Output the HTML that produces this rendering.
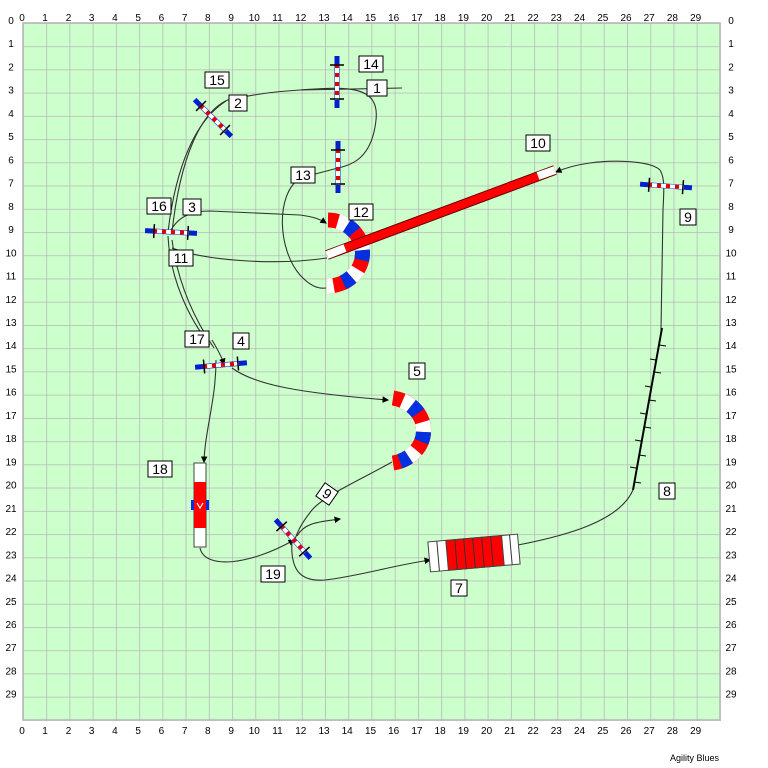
<!DOCTYPE html>
<html><head><meta charset="utf-8"><style>
html,body{margin:0;padding:0;background:#fff;}
svg{display:block;font-family:"Liberation Sans",sans-serif;}
.n{font-size:10px;fill:#000;text-anchor:middle;}
.lb rect{fill:#fff;stroke:#000;stroke-width:1;}
.lb text{font-size:14px;text-anchor:middle;}
.p{fill:none;stroke:#333;stroke-width:1.1;}
</style></head><body>
<svg width="768" height="768" viewBox="0 0 768 768">
<defs>
<pattern id="g" x="23" y="23" width="23.233" height="23.233" patternUnits="userSpaceOnUse">
<path d="M0 0 H23.233 M0 0 V23.233" stroke="#b8b8b8" stroke-width="1.6" fill="none"/>
</pattern>
<g id="jmp">
<line x1="-26" y1="0" x2="26" y2="0" stroke="#0020d0" stroke-width="5"/>
<line x1="-18" y1="0" x2="18" y2="0" stroke="#fff" stroke-width="4"/>
<line x1="-18" y1="0" x2="18" y2="0" stroke="#e00000" stroke-width="4" stroke-dasharray="4 5"/>
<line x1="-17" y1="-7" x2="-17" y2="7" stroke="#000" stroke-width="1.5"/>
<line x1="17" y1="-7" x2="17" y2="7" stroke="#000" stroke-width="1.5"/>
</g>
<marker id="a" markerWidth="6" markerHeight="6" refX="5" refY="3" orient="auto"><path d="M0 0 L6 3 L0 6z" fill="#000"/></marker>
</defs>
<rect x="23" y="23" width="697" height="697" fill="#ccffcc"/>
<rect x="23" y="23" width="698" height="698" fill="url(#g)"/>
<rect x="23" y="23" width="697" height="697" fill="none" stroke="#b8b8b8" stroke-width="1.6"/>

<g class="n">
<text x="22" y="21">0</text><text x="45" y="21">1</text><text x="68.5" y="21">2</text><text x="91.7" y="21">3</text><text x="114.9" y="21">4</text><text x="138.2" y="21">5</text><text x="161.4" y="21">6</text><text x="184.6" y="21">7</text><text x="207.8" y="21">8</text><text x="231.1" y="21">9</text><text x="254.3" y="21">10</text><text x="277.5" y="21">11</text><text x="300.8" y="21">12</text><text x="324" y="21">13</text><text x="347.2" y="21">14</text><text x="370.5" y="21">15</text><text x="393.7" y="21">16</text><text x="416.9" y="21">17</text><text x="440.1" y="21">18</text><text x="463.4" y="21">19</text><text x="486.6" y="21">20</text><text x="509.8" y="21">21</text><text x="533.1" y="21">22</text><text x="556.3" y="21">23</text><text x="579.5" y="21">24</text><text x="602.8" y="21">25</text><text x="626" y="21">26</text><text x="649.2" y="21">27</text><text x="672.4" y="21">28</text><text x="695.7" y="21">29</text>
</g>
<g class="n">
<text x="22" y="734">0</text><text x="45" y="734">1</text><text x="68.5" y="734">2</text><text x="91.7" y="734">3</text><text x="114.9" y="734">4</text><text x="138.2" y="734">5</text><text x="161.4" y="734">6</text><text x="184.6" y="734">7</text><text x="207.8" y="734">8</text><text x="231.1" y="734">9</text><text x="254.3" y="734">10</text><text x="277.5" y="734">11</text><text x="300.8" y="734">12</text><text x="324" y="734">13</text><text x="347.2" y="734">14</text><text x="370.5" y="734">15</text><text x="393.7" y="734">16</text><text x="416.9" y="734">17</text><text x="440.1" y="734">18</text><text x="463.4" y="734">19</text><text x="486.6" y="734">20</text><text x="509.8" y="734">21</text><text x="533.1" y="734">22</text><text x="556.3" y="734">23</text><text x="579.5" y="734">24</text><text x="602.8" y="734">25</text><text x="626" y="734">26</text><text x="649.2" y="734">27</text><text x="672.4" y="734">28</text><text x="695.7" y="734">29</text>
</g>
<g class="n">
<text x="11" y="24">0</text><text x="11" y="47.2">1</text><text x="11" y="70.5">2</text><text x="11" y="93.7">3</text><text x="11" y="116.9">4</text><text x="11" y="140.2">5</text><text x="11" y="163.4">6</text><text x="11" y="186.6">7</text><text x="11" y="209.8">8</text><text x="11" y="233.1">9</text><text x="11" y="256.3">10</text><text x="11" y="279.5">11</text><text x="11" y="302.8">12</text><text x="11" y="326">13</text><text x="11" y="349.2">14</text><text x="11" y="372.5">15</text><text x="11" y="395.7">16</text><text x="11" y="418.9">17</text><text x="11" y="442.1">18</text><text x="11" y="465.4">19</text><text x="11" y="488.6">20</text><text x="11" y="511.8">21</text><text x="11" y="535.1">22</text><text x="11" y="558.3">23</text><text x="11" y="581.5">24</text><text x="11" y="604.8">25</text><text x="11" y="628">26</text><text x="11" y="651.2">27</text><text x="11" y="674.4">28</text><text x="11" y="697.7">29</text>
</g>
<g class="n">
<text x="731" y="24">0</text><text x="731" y="47.2">1</text><text x="731" y="70.5">2</text><text x="731" y="93.7">3</text><text x="731" y="116.9">4</text><text x="731" y="140.2">5</text><text x="731" y="163.4">6</text><text x="731" y="186.6">7</text><text x="731" y="209.8">8</text><text x="731" y="233.1">9</text><text x="731" y="256.3">10</text><text x="731" y="279.5">11</text><text x="731" y="302.8">12</text><text x="731" y="326">13</text><text x="731" y="349.2">14</text><text x="731" y="372.5">15</text><text x="731" y="395.7">16</text><text x="731" y="418.9">17</text><text x="731" y="442.1">18</text><text x="731" y="465.4">19</text><text x="731" y="488.6">20</text><text x="731" y="511.8">21</text><text x="731" y="535.1">22</text><text x="731" y="558.3">23</text><text x="731" y="581.5">24</text><text x="731" y="604.8">25</text><text x="731" y="628">26</text><text x="731" y="651.2">27</text><text x="731" y="674.4">28</text><text x="731" y="697.7">29</text>
</g>
<text x="719" y="761" font-size="9" text-anchor="end">Agility Blues</text>

<g class="p">
<path d="M402,88 L300,90 C270,92 248,95 232,100"/>
<path d="M300,90 C345,87 380,84 376,120 C372,158 352,165 338,168 L300,178 C275,195 278,250 300,275 C310,286 318,289 326,288"/>
<path d="M230,99 C200,110 180,160 172,232" />
<path d="M226,101 C196,120 176,165 168,232" />
<path d="M170,232 C178,216 192,211 210,211 L300,215 C314,217 320,219 326,223" marker-end="url(#a)"/>
<path d="M327,258 C280,265 210,262 172,248" />
<path d="M168,236 C170,280 190,320 210,345" />
<path d="M172,240 C178,285 195,320 214,348" />
<path d="M212,340 C218,350 222,358 224,364" marker-end="url(#a)"/>
<path d="M216,360 C216,400 205,430 204,462" marker-end="url(#a)"/>
<path d="M232,368 C255,385 300,393 388,400" marker-end="url(#a)"/>
<path d="M392,462 C360,480 325,495 312,510 C300,525 297,533 294,542"/>
<path d="M297,536 C305,522 320,522 340,519" marker-end="url(#a)"/>
<path d="M200,548 C205,570 250,565 294,540" marker-end="url(#a)"/>
<path d="M292,540 C290,570 300,582 325,580 C360,576 390,566 430,560" marker-end="url(#a)"/>
<path d="M518,545 C570,535 620,520 633,490"/>
<path d="M661,330 L663,210 C664,190 665,178 660,170 C650,160 610,160 590,163 C575,165 565,168 556,172" marker-end="url(#a)"/>
</g>

<use href="#jmp" transform="translate(337,82) rotate(90)"/>
<use href="#jmp" transform="translate(338,167) rotate(90)"/>
<use href="#jmp" transform="translate(213,118) rotate(45)"/>
<use href="#jmp" transform="translate(171,232) rotate(3)"/>
<use href="#jmp" transform="translate(666,186) rotate(4)"/>
<use href="#jmp" transform="translate(221,365) rotate(-5)"/>
<use href="#jmp" transform="translate(293,539) rotate(48)"/>

<!-- tunnel 12 -->
<g fill="none" stroke-width="15">
<path d="M328,220 A35,33 0 0 1 327,286" stroke="#ff0000"/>
<path d="M328,220 A35,33 0 0 1 327,286" stroke="#fff" stroke-dasharray="10 20" stroke-dashoffset="20"/>
<path d="M328,220 A35,33 0 0 1 327,286" stroke="#0030e0" stroke-dasharray="10 20" stroke-dashoffset="10"/>
</g>
<!-- tunnel 5 -->
<g fill="none" stroke-width="15">
<path d="M393,398 A37,33 0 0 1 393,463" stroke="#ff0000"/>
<path d="M393,398 A37,33 0 0 1 393,463" stroke="#fff" stroke-dasharray="10 20" stroke-dashoffset="20"/>
<path d="M393,398 A37,33 0 0 1 393,463" stroke="#0030e0" stroke-dasharray="10 20" stroke-dashoffset="10"/>
</g>

<line x1="327" y1="255" x2="555" y2="170" stroke="#600" stroke-width="10"/>
<line x1="327" y1="255" x2="555" y2="170" stroke="#ff0000" stroke-width="8"/>
<line x1="327" y1="255" x2="345" y2="248" stroke="#fff" stroke-width="8"/>
<line x1="538" y1="176" x2="555" y2="170" stroke="#fff" stroke-width="8"/>

<line x1="633" y1="490" x2="662" y2="328" stroke="#000" stroke-width="2"/>
<g stroke="#000" stroke-width="1">
<line x1="659" y1="345" x2="666" y2="346"/><line x1="656" y1="360" x2="650" y2="359"/><line x1="654" y1="372" x2="661" y2="373"/><line x1="651" y1="387" x2="645" y2="386"/><line x1="649" y1="400" x2="656" y2="401"/><line x1="646" y1="414" x2="640" y2="413"/><line x1="644" y1="427" x2="651" y2="428"/><line x1="641" y1="441" x2="635" y2="440"/><line x1="639" y1="455" x2="646" y2="456"/><line x1="636" y1="468" x2="630" y2="467"/><line x1="634" y1="482" x2="641" y2="483"/>
</g>

<g transform="translate(474,553) rotate(-5)">
<rect x="-45" y="-15" width="90" height="30" fill="#fff" stroke="#444"/>
<rect x="-27" y="-15" width="56" height="30" fill="#ff0000" stroke="#444"/>
<g stroke="#333"><line x1="-36" y1="-15" x2="-36" y2="15"/><line x1="-18" y1="-15" x2="-18" y2="15"/><line x1="-9" y1="-15" x2="-9" y2="15"/><line x1="0" y1="-15" x2="0" y2="15"/><line x1="9" y1="-15" x2="9" y2="15"/><line x1="18" y1="-15" x2="18" y2="15"/><line x1="37" y1="-15" x2="37" y2="15"/></g>
</g>

<rect x="194" y="463" width="12" height="84" fill="#fff" stroke="#444"/>
<rect x="194" y="482" width="12" height="46" fill="#ff0000"/>
<rect x="191" y="500" width="3" height="10" fill="#0030e0"/><rect x="206" y="500" width="3" height="10" fill="#0030e0"/>
<path d="M197,503 L200,508 L203,503" stroke="#fff" fill="none" stroke-width="1.2"/>

<g class="lb">
<g transform="translate(377,88)"><rect x="-10" y="-8" width="20" height="16"/><text y="5">1</text></g>
<g transform="translate(371,64)"><rect x="-12" y="-8" width="24" height="16"/><text y="5">14</text></g>
<g transform="translate(217,80)"><rect x="-12" y="-8" width="24" height="16"/><text y="5">15</text></g>
<g transform="translate(238,103)"><rect x="-9" y="-8" width="18" height="16"/><text y="5">2</text></g>
<g transform="translate(538,143)"><rect x="-12" y="-8" width="24" height="16"/><text y="5">10</text></g>
<g transform="translate(303,175)"><rect x="-12" y="-8" width="24" height="16"/><text y="5">13</text></g>
<g transform="translate(159,206)"><rect x="-12" y="-8" width="24" height="16"/><text y="5">16</text></g>
<g transform="translate(192,207)"><rect x="-9" y="-8" width="18" height="16"/><text y="5">3</text></g>
<g transform="translate(361,212)"><rect x="-12" y="-8" width="24" height="16"/><text y="5">12</text></g>
<g transform="translate(181,258)"><rect x="-12" y="-8" width="24" height="16"/><text y="5">11</text></g>
<g transform="translate(688,217)"><rect x="-8" y="-8" width="16" height="16"/><text y="5">9</text></g>
<g transform="translate(197,339)"><rect x="-12" y="-8" width="24" height="16"/><text y="5">17</text></g>
<g transform="translate(241,341)"><rect x="-8" y="-8" width="16" height="16"/><text y="5">4</text></g>
<g transform="translate(417,371)"><rect x="-8" y="-8" width="16" height="16"/><text y="5">5</text></g>
<g transform="translate(160,469)"><rect x="-12" y="-8" width="24" height="16"/><text y="5">18</text></g>
<g transform="translate(667,491)"><rect x="-8" y="-8" width="16" height="16"/><text y="5">8</text></g>
<g transform="translate(327,494) rotate(215)"><rect x="-8" y="-8" width="16" height="16"/><text y="5">6</text></g>
<g transform="translate(273,574)"><rect x="-12" y="-8" width="24" height="16"/><text y="5">19</text></g>
<g transform="translate(459,588)"><rect x="-8" y="-8" width="16" height="16"/><text y="5">7</text></g>
</g>
</svg>
</body></html>
